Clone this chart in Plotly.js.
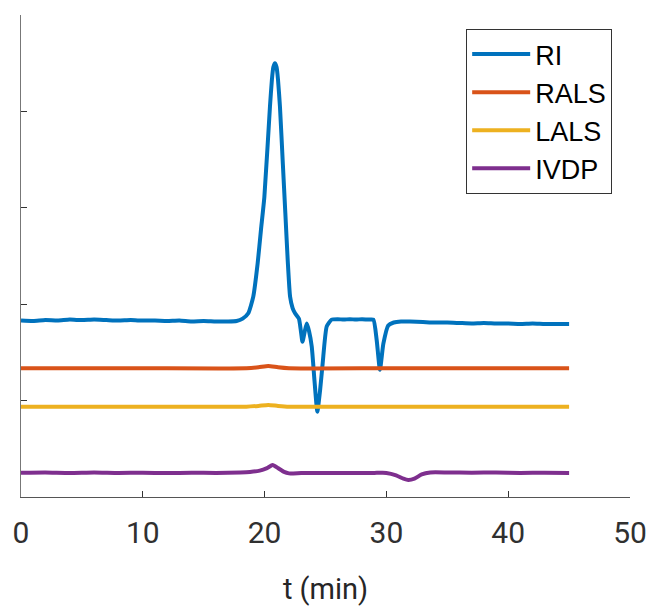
<!DOCTYPE html>
<html>
<head>
<meta charset="utf-8">
<script src="https://cdn.plot.ly/plotly-3.0.1.min.js"></script>
<style>html,body{margin:0;padding:0;background:#fff;}#chart{width:654px;height:606px;}</style>
</head>
<body>
<div id="chart"></div>
<script>
// Series names and colours
const seriesNames = ["RI", "RALS", "LALS", "IVDP"];
const seriesColors = ["#0072BD", "#D95319", "#EDB120", "#7E2F8E"];

// RI trace (time in min, signal in arbitrary offset units)
const riT = [0, 1, 2, 3, 4, 5, 6, 7, 8, 9, 10, 11, 12, 13, 14, 15, 16, 17, 17.7, 18.2, 18.66, 19.07, 19.43, 19.7, 19.98, 20.44, 20.6, 20.72, 20.85, 20.98, 21.1, 21.26, 21.5, 21.7, 21.9, 22.09, 22.3, 22.5, 22.82, 22.98, 23.11, 23.3, 23.46, 23.65, 23.87, 24.1, 24.33, 24.55, 24.77, 25.1, 25.5, 26, 26.5, 27, 27.5, 28, 28.5, 28.93, 29.2, 29.47, 29.75, 30.15, 30.6, 31.2, 31.94, 33, 34, 35, 36, 37, 38, 39, 40, 41, 42, 43, 44, 45];
const riY = [1.83, 1.825, 1.835, 1.83, 1.84, 1.835, 1.84, 1.835, 1.83, 1.835, 1.83, 1.83, 1.825, 1.83, 1.82, 1.825, 1.82, 1.82, 1.825, 1.85, 1.906, 2.078, 2.424, 2.77, 3.11, 4.05, 4.33, 4.46, 4.50, 4.46, 4.33, 4.05, 3.45, 2.95, 2.45, 2.08, 1.96, 1.906, 1.85, 1.72, 1.61, 1.72, 1.80, 1.72, 1.56, 1.2, 0.885, 1.1, 1.39, 1.77, 1.84, 1.845, 1.84, 1.845, 1.84, 1.845, 1.84, 1.84, 1.63, 1.32, 1.59, 1.78, 1.81, 1.82, 1.82, 1.815, 1.81, 1.81, 1.805, 1.80, 1.805, 1.80, 1.80, 1.795, 1.80, 1.795, 1.795, 1.795];

// RALS trace
const ralsT = [0, 10, 18.5, 19.5, 20.3, 21.1, 22, 30, 45];
const ralsY = [1.335, 1.335, 1.335, 1.345, 1.36, 1.345, 1.335, 1.335, 1.335];

// LALS trace
const lalsT = [0, 10, 18.5, 19.5, 20.3, 21.1, 22, 30, 45];
const lalsY = [0.937, 0.937, 0.937, 0.945, 0.955, 0.945, 0.937, 0.937, 0.937];

// IVDP trace
const ivdpT = [0, 2, 4, 6, 8, 10, 12, 14, 16, 18, 18.8, 19.6, 20.2, 20.66, 21.1, 21.6, 22, 23, 25, 27, 29, 30, 30.8, 31.4, 31.8, 32.3, 32.9, 33.6, 35, 37, 39, 41, 43, 45];
const ivdpY = [0.252, 0.255, 0.25, 0.255, 0.25, 0.252, 0.248, 0.252, 0.25, 0.255, 0.26, 0.273, 0.30, 0.332, 0.30, 0.26, 0.245, 0.248, 0.25, 0.248, 0.25, 0.25, 0.225, 0.19, 0.176, 0.19, 0.235, 0.255, 0.255, 0.252, 0.255, 0.25, 0.252, 0.25];

// Axis ticks
const xTicks = [0, 10, 20, 30, 40, 50];
const yTicks = [0, 1, 2, 3, 4, 5];

const xs = [riT, ralsT, lalsT, ivdpT];
const ys = [riY, ralsY, lalsY, ivdpY];

const data = seriesNames.map((name, i) => ({
  type: "scatter",
  mode: "lines",
  name: name,
  x: xs[i],
  y: ys[i],
  line: {color: seriesColors[i], width: 4, shape: "spline", smoothing: 0.5}
}));

const layout = {
  width: 654,
  height: 606,
  margin: {l: 21, r: 24, t: 15, b: 109},
  paper_bgcolor: "#ffffff",
  plot_bgcolor: "#ffffff",
  showlegend: true,
  legend: {
    x: 0.731, y: 0.971, xanchor: "left", yanchor: "top",
    bgcolor: "#ffffff", bordercolor: "#333333", borderwidth: 1,
    font: {family: "Liberation Sans, Arial, sans-serif", size: 27, color: "#000000"},
    itemwidth: 58,
    tracegroupgap: 0
  },
  xaxis: {
    range: [0, 50],
    tickvals: xTicks,
    ticktext: xTicks.map(String),
    ticks: "inside",
    ticklen: 6,
    tickcolor: "#333333",
    showline: true,
    linecolor: "#555555",
    linewidth: 1,
    showgrid: false,
    zeroline: false,
    ticklabelstandoff: 9,
    tickfont: {family: "Roboto, sans-serif", size: 30, color: "#303030"},
    title: {text: "t (min)", font: {family: "Roboto, sans-serif", size: 29, color: "#262626"}, standoff: 31}
  },
  yaxis: {
    range: [0, 5],
    tickvals: yTicks,
    ticks: "inside",
    ticklen: 6,
    tickcolor: "#333333",
    showticklabels: false,
    showline: true,
    linecolor: "#777777",
    linewidth: 1,
    showgrid: false,
    zeroline: false
  }
};

Plotly.newPlot("chart", data, layout, {displayModeBar: false, staticPlot: true});
</script>
</body>
</html>
